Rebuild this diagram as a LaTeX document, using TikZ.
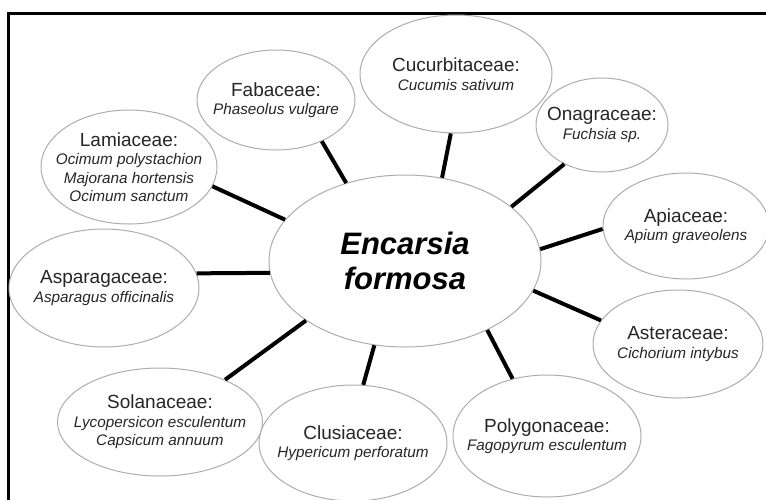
\documentclass[tikz,border=0pt]{standalone}
\usepackage{fontspec}
\setmainfont{Liberation Sans}
\usetikzlibrary{shapes.geometric}
\newcommand{\famf}{\fontsize{19}{18.5}\selectfont}
\newcommand{\spf}{\fontsize{15.3}{17}\selectfont\itshape}
\tikzset{
  taxon/.style={ellipse, draw=black!32, line width=1pt, fill=white, inner sep=-40pt,
    align=center, text=black!85, font=\famf},
  hub/.style={ellipse, draw=black!32, line width=1pt, fill=white, inner sep=-20pt,
    align=center, text=black, font=\fontsize{31}{35}\selectfont\bfseries\itshape},
  link/.style={line width=4pt, black}
}
\begin{document}
\begin{tikzpicture}[x=1pt,y=-1pt]
\useasboundingbox (0,0) rectangle (766,499);
\fill[white] (0,0) rectangle (766,499);
\draw[line width=3pt] (8,502) -- (8,13) -- (770,13);

\node[hub, minimum width=272pt, minimum height=172pt] (c) at (405,261) {Encarsia\\formosa};

\node[taxon, minimum width=158pt, minimum height=100pt] (fab) at (276,100) {Fabaceae:\\{\spf Phaseolus vulgare}};
\node[taxon, minimum width=192pt, minimum height=118pt] (cuc) at (456,74) {Cucurbitaceae:\\{\spf Cucumis sativum}};
\node[taxon, minimum width=132pt, minimum height=94pt] (ona) at (602,125) {Onagraceae:\\{\spf Fuchsia sp.}};
\node[taxon, minimum width=166pt, minimum height=106pt] (api) at (686,226) {Apiaceae:\\{\spf Apium graveolens}};
\node[taxon, minimum width=170pt, minimum height=108pt] (ast) at (678,344) {Asteraceae:\\{\spf Cichorium intybus}};
\node[taxon, minimum width=188pt, minimum height=122pt] (pol) at (547,436) {Polygonaceae:\\{\spf Fagopyrum esculentum}};
\node[taxon, minimum width=188pt, minimum height=116pt] (clu) at (353,443) {Clusiaceae:\\{\spf Hypericum perforatum}};
\node[taxon, minimum width=205pt, minimum height=108pt] (sol) at (160,422) {Solanaceae:\\{\spf Lycopersicon esculentum}\\{\spf Capsicum annuum}};
\node[taxon, minimum width=190pt, minimum height=118pt] (asp) at (104,288) {Asparagaceae:\\{\spf Asparagus officinalis}};
\node[taxon, minimum width=176pt, minimum height=114pt] (lam) at (129,167) {Lamiaceae:\\{\spf Ocimum polystachion}\\{\spf Majorana hortensis}\\{\spf Ocimum sanctum}};

\draw[link] (c.127.6) -- (fab.-42.4);
\draw[link] (c.161.1) -- (lam.-13.4);
\draw[link] (c.66.2) -- (cuc.-95.8);
\draw[link] (c.27) -- (ona.-134.3);
\draw[link] (c.5.5) -- (api.182.8);
\draw[link] (c.-13.4) -- (ast.163.4);
\draw[link] (c.-40.8) -- (pol.121.8);
\draw[link] (c.-110.4) -- (clu.80.7);
\draw[link] (c.211.4) -- (sol.33.1);
\draw[link] (c.185.2) -- (asp.9.4);
\end{tikzpicture}
\end{document}
